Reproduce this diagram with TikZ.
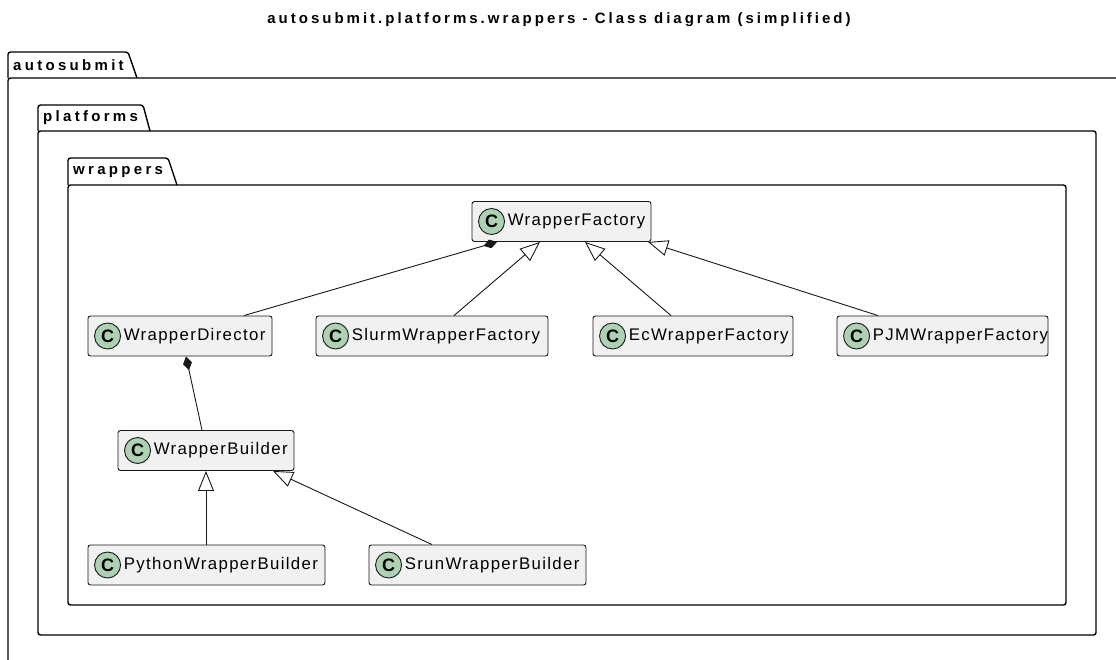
\documentclass[tikz,border=0pt]{standalone}
\usepackage{fontspec}
\setmainfont{Liberation Sans}
\newfontfamily\clsfont[LetterSpace=8]{Liberation Sans}
\newfontfamily\pkgfont[LetterSpace=22]{Liberation Sans Bold}
\newfontfamily\ttlfont[LetterSpace=20]{Liberation Sans Bold}
\usetikzlibrary{arrows.meta}
\definecolor{classfill}{HTML}{F1F1F1}
\definecolor{classline}{HTML}{181818}
\definecolor{spotfill}{HTML}{ADD1B2}
\tikzset{
  classbox/.style={draw=classline, fill=classfill, line width=0.9pt,
    rounded corners=2.5pt, minimum height=40pt, inner sep=0pt},
  spot/.style={circle, draw=classline, fill=spotfill, line width=0.9pt,
    minimum size=26pt, inner sep=0pt, font=\fontsize{18}{18}\selectfont\bfseries},
  classlabel/.style={anchor=west, inner sep=0pt, font=\fontsize{16.8}{19}\clsfont},
  pkgline/.style={draw=black, line width=1.4pt, rounded corners=2.5pt},
  pkglabel/.style={anchor=west, inner sep=0pt, font=\fontsize{15}{17}\pkgfont},
  compo/.style={draw=classline, line width=0.9pt,
    -{Diamond[length=14pt, width=9pt, fill=classline]}},
  inherit/.style={draw=classline, line width=0.9pt,
    -{Triangle[open, length=20pt, width=16pt, fill=white]}}
}
% a class box with its "C" spot and name: name, centre, width, label
\newcommand{\umlclass}[4]{%
  \node[classbox, minimum width=#3pt] (#1) at (#2) {};
  \node[spot] (#1-spot) at ([xshift=20pt]#1.west) {C};
  \node[classlabel] (#1-name) at ([xshift=36pt]#1.west) {#4};
}
\begin{document}
\begin{tikzpicture}[x=1pt, y=-1pt]
  \useasboundingbox (0,0) rectangle (1116,660);
  \fill[white] (0,0) rectangle (1116,660);

  \node[inner sep=0pt, font=\fontsize{15}{17}\ttlfont] (title) at (559,20)
    {autosubmit.platforms.wrappers - Class diagram (simplified)};

  % packages
  \begin{scope}
    \clip (0,0) rectangle (1116,660);
    \draw[pkgline] (8,78) -- (8,52) -- (128,52) -- (137,78);
    \draw[pkgline] (8,78) rectangle (1140,690);
  \end{scope}
  \node[pkglabel] (pkgA) at (13,65) {autosubmit};

  \draw[pkgline] (38,131) -- (38,105) -- (143,105) -- (150,131);
  \draw[pkgline] (38,131) rectangle (1096,635);
  \node[pkglabel] (pkgB) at (43,118) {platforms};

  \draw[pkgline] (68,185) -- (68,158) -- (168,158) -- (177,185);
  \draw[pkgline] (68,185) rectangle (1066,605);
  \node[pkglabel] (pkgC) at (73,172) {wrappers};

  % classes
  \umlclass{WF}{561.5,221.5}{179}{WrapperFactory}
  \umlclass{WD}{180,336}{184}{WrapperDirector}
  \umlclass{SWF}{432,336}{232}{SlurmWrapperFactory}
  \umlclass{EWF}{693,336}{200}{EcWrapperFactory}
  \umlclass{PWF}{942.5,336}{211}{PJMWrapperFactory}
  \umlclass{WB}{206,450.5}{176}{WrapperBuilder}
  \umlclass{PyWB}{206.5,565}{237}{PythonWrapperBuilder}
  \umlclass{SrWB}{477.5,565}{217}{SrunWrapperBuilder}

  % relations
  \draw[compo] ([xshift=64pt]WD.north) -- ([xshift=-64.5pt]WF.south);
  \draw[inherit] ([xshift=22pt]SWF.north) -- ([xshift=-21.5pt]WF.south);
  \draw[inherit] ([xshift=-22pt]EWF.north) -- ([xshift=23.5pt]WF.south);
  \draw[inherit] ([xshift=-64.5pt]PWF.north) -- ([xshift=86.5pt]WF.south);
  \draw[compo] ([xshift=-4pt]WB.north) -- ([xshift=6pt]WD.south);
  \draw[inherit] ([xshift=-0.5pt]PyWB.north) -- ([xshift=0pt]WB.south);
  \draw[inherit] ([xshift=-45.5pt]SrWB.north) -- ([xshift=67pt]WB.south);
\end{tikzpicture}
\end{document}
